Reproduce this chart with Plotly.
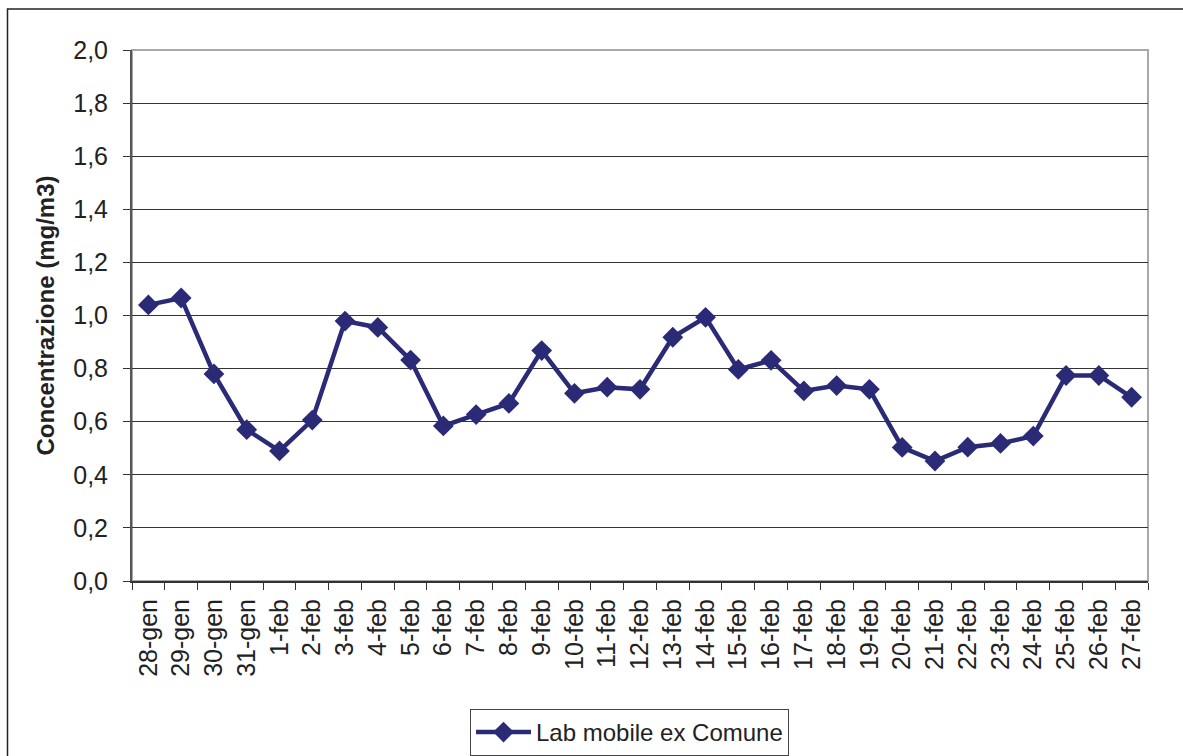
import plotly.graph_objects as go

dates = ["28-gen", "29-gen", "30-gen", "31-gen", "1-feb", "2-feb", "3-feb", "4-feb",
         "5-feb", "6-feb", "7-feb", "8-feb", "9-feb", "10-feb", "11-feb", "12-feb",
         "13-feb", "14-feb", "15-feb", "16-feb", "17-feb", "18-feb", "19-feb", "20-feb",
         "21-feb", "22-feb", "23-feb", "24-feb", "25-feb", "26-feb", "27-feb"]
values = [1.04, 1.066, 0.78, 0.57, 0.49, 0.606, 0.979, 0.955,
          0.832, 0.584, 0.627, 0.669, 0.868, 0.707, 0.73, 0.722,
          0.918, 0.993, 0.797, 0.831, 0.716, 0.736, 0.722, 0.503,
          0.452, 0.504, 0.518, 0.546, 0.774, 0.774, 0.692]
series_name = "Lab mobile ex Comune"
y_ticks = [0.0, 0.2, 0.4, 0.6, 0.8, 1.0, 1.2, 1.4, 1.6, 1.8, 2.0]
y_labels = ["0,0", "0,2", "0,4", "0,6", "0,8", "1,0", "1,2", "1,4", "1,6", "1,8", "2,0"]

color = "#2a2a76"
font = "Liberation Sans, Arial, sans-serif"

fig = go.Figure()
fig.add_trace(go.Scatter(
    x=dates, y=values, mode="lines+markers", name=series_name,
    line=dict(color=color, width=4.5),
    marker=dict(symbol="diamond", size=16, color=color),
))

L, R, T, B = 132, 35, 50, 175
W, H = 1183, 756
pw, ph = W - L - R, H - T - B

fig.update_layout(
    width=W, height=H,
    margin=dict(l=L, r=R, t=T, b=B, autoexpand=False),
    paper_bgcolor="white", plot_bgcolor="white",
    font=dict(family=font, size=25, color="#222"),
    showlegend=True,
    legend=dict(
        xref="container", yref="container",
        x=470 / W, y=(H - 709) / H, xanchor="left", yanchor="top",
        orientation="h", bordercolor="#444", borderwidth=1,
        font=dict(size=24, color="#222"), itemwidth=55,
    ),
    xaxis=dict(
        type="category", range=[-0.5, len(dates) - 0.5], automargin=False,
        tickson="boundaries", ticks="outside", ticklen=7, tickcolor="#333",
        tickangle=-90, showgrid=False, showline=True, linecolor="#333", linewidth=2,
        tickfont=dict(size=25), ticklabelstandoff=6, zeroline=False,
    ),
    yaxis=dict(
        range=[0, 2.0], tickvals=y_ticks, ticktext=y_labels, automargin=False,
        ticks="outside", ticklen=7, tickcolor="#333",
        showgrid=True, gridcolor="#333", gridwidth=1,
        showline=True, linecolor="#555", linewidth=2, zeroline=False,
        tickfont=dict(size=25), ticklabelstandoff=10,
        title=dict(text="<b>Concentrazione (mg/m3)</b>", font=dict(size=24), standoff=12),
    ),
    shapes=[
        dict(type="rect", xref="paper", yref="paper", x0=0, x1=1, y0=0, y1=1,
             line=dict(color="#a8a8a8", width=2), layer="below"),
        dict(type="rect", xref="paper", yref="paper",
             x0=(7.5 - L) / pw, x1=(1200 - L) / pw,
             y0=(H - B - 800) / ph, y1=(H - B - 9) / ph,
             line=dict(color="#222", width=1.5), layer="below"),
    ],
)

fig.write_html("out.html")
